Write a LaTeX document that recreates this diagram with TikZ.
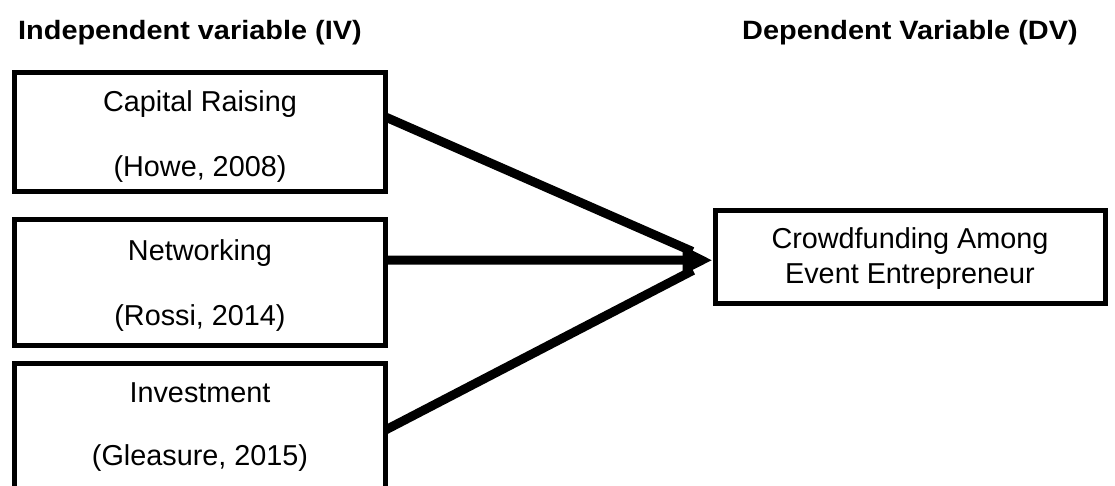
\documentclass[tikz,border=0pt]{standalone}
\usepackage{fontspec}
\setmainfont{Liberation Sans}
\usetikzlibrary{arrows.meta}
\tikzset{
  varbox/.style={draw, line width=5pt, rectangle, inner sep=0pt, minimum width=371pt},
  dvbox/.style={draw, line width=5pt, rectangle, inner sep=0pt, minimum width=390.5pt, minimum height=92.5pt},
  lbl/.style={anchor=base, inner sep=0pt, font=\fontsize{28.8}{34}\selectfont},
  hdr/.style={anchor=base west, inner sep=0pt, font=\fontsize{26.5}{32}\selectfont\bfseries},
  link/.style={line width=9pt},
  headed/.style={link, -{Triangle[length=30pt,width=27pt]}}
}
\begin{document}
\begin{tikzpicture}[x=1pt,y=-1pt]
\useasboundingbox (0,0) rectangle (1115,486);
\clip (0,0) rectangle (1115,486);
\fill[white] (0,0) rectangle (1115,486);
% headers
\node[hdr] (hiv) at (18,40) {\scalebox{1.09}[1]{Independent variable (IV)}};
\node[hdr] (hdv) at (742,40) {\scalebox{1.09}[1]{Dependent Variable (DV)}};
% boxes
\node[varbox, minimum height=119pt] (cap) at (200,132) {};
\node[varbox, minimum height=125pt] (net) at (200,282.5) {};
\node[varbox, minimum height=150pt] (inv) at (200,438) {};
\node[dvbox] (dv) at (910.25,257.25) {};
% texts
\node[lbl] (t1) at (200,112) {Capital Raising};
\node[lbl] (t2) at (200,177) {(Howe, 2008)};
\node[lbl] (t3) at (200,260) {Networking};
\node[lbl] (t4) at (200,325) {(Rossi, 2014)};
\node[lbl] (t5) at (200,402) {Investment};
\node[lbl] (t6) at (200,465) {(Gleasure, 2015)};
\node[lbl] (t7) at (910,248) {Crowdfunding Among};
\node[lbl] (t8) at (910,283) {Event Entrepreneur};
% connectors
\coordinate (tip) at ([yshift=-3pt]dv.west);
\draw[link, shorten >=22pt] ([xshift=-2.5pt,yshift=15pt]cap.east) -- (tip);
\draw[link, shorten >=22pt] ([xshift=-2.5pt,yshift=8pt]inv.east) -- (tip);
\draw[headed] ([xshift=-2.5pt,yshift=22.5pt]net.east) -- (tip);
\end{tikzpicture}
\end{document}
